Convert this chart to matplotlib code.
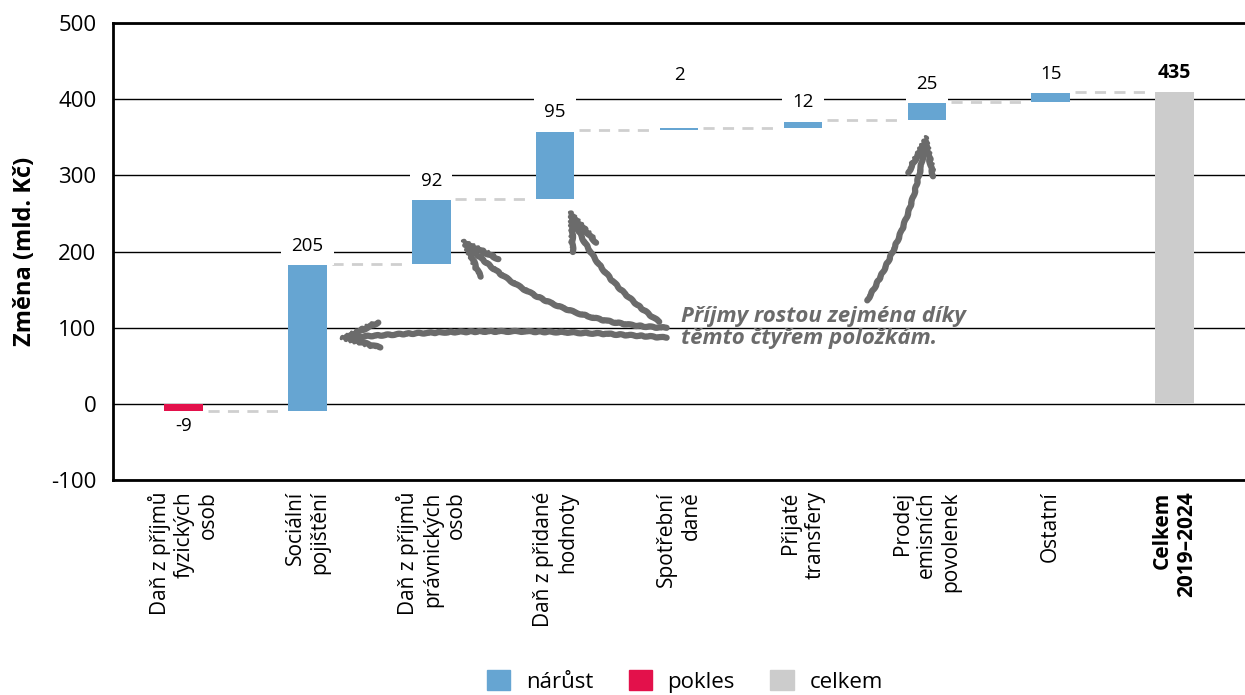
import matplotlib
matplotlib.use("Agg")
from matplotlib import pyplot as plt
from matplotlib.patches import Patch

# data
categories = ["Daň z příjmů\nfyzických\nosob", "Sociální\npojištění",
              "Daň z příjmů\nprávnických\nosob", "Daň z přidané\nhodnoty",
              "Spotřební\ndaně", "Přijaté\ntransfery",
              "Prodej\nemisních\npovolenek", "Ostatní", "Celkem\n2019–2024"]
# bar heights as drawn in the picture
changes = [-9, 193, 85, 90, 2.5, 10.5, 24, 13.5]
total = 409
# numbers printed above the bars
value_labels = ["-9", "205", "92", "95", "2", "12", "25", "15", "435"]
label_gap = [8, 12, 12, 12, 58, 12, 12, 12, 12]

c_up = "#66a5d2"
c_down = "#e3114b"
c_total = "#cccccc"
c_note = "#6b6b6b"

plt.rcParams['font.family'] = ['Open Sans', 'DejaVu Sans']
plt.rcParams['axes.unicode_minus'] = False

fig = plt.figure(figsize=(12.45, 6.95), dpi=100)
ax = fig.add_axes([0.0908, 0.309, 0.9092, 0.658])

width = 0.31
bottoms = []
running = 0
for i, ch in enumerate(changes):
    if ch >= 0:
        bottoms.append(running)
    else:
        bottoms.append(running + ch)
    running += ch
colors = [c_up if ch >= 0 else c_down for ch in changes]
heights = [abs(ch) for ch in changes]

ax.bar(range(len(changes)), heights, width, bottom=bottoms, color=colors, zorder=3)
ax.bar(len(changes), total, width, bottom=0, color=c_total, zorder=3)

# connectors
running = 0
for i, ch in enumerate(changes):
    running += ch
    ax.plot([i + width / 2 + 0.04, i + 1 - width / 2 - 0.04], [running, running],
            color="#cfcfcf", lw=2, ls=(0, (4, 3)), zorder=2)

# value labels
running = 0
for i, ch in enumerate(changes):
    if ch >= 0:
        top = running + ch
        ax.text(i, top + label_gap[i], value_labels[i], ha="center", va="bottom",
                fontsize=13.5, zorder=4,
                bbox=dict(boxstyle="square,pad=0.55", fc="white", ec="none"))
    else:
        ax.text(i, running + ch - label_gap[i], value_labels[i], ha="center", va="top",
                fontsize=13.5, zorder=4)
    running += ch
ax.text(len(changes), total + label_gap[-1], value_labels[-1], ha="center", va="bottom",
        fontsize=14, fontweight="bold", zorder=4,
        bbox=dict(boxstyle="square,pad=0.3", fc="white", ec="none"))

ax.set_ylim(-100, 500)
ax.set_xlim(-0.57, 8.57)
ax.set_yticks(range(-100, 501, 100))
ax.yaxis.grid(True, color="black", lw=1)
ax.set_axisbelow(True)
ax.tick_params(axis="both", length=0, labelsize=16)
ax.tick_params(axis="y", pad=12)
ax.tick_params(axis="x", labelsize=15, pad=8)
ax.set_xticks(range(len(categories)))
ax.set_xticklabels(categories, rotation=90)
for lab in ax.get_xticklabels():
    lab.set_multialignment("right")
ax.get_xticklabels()[-1].set_fontweight("bold")

ax.spines["right"].set_visible(False)
ax.spines["left"].set_linewidth(2)
ax.spines["bottom"].set_linewidth(2)
ax.spines["top"].set_linewidth(2)

ax.set_ylabel("Změna (mld. Kč)", fontsize=17, fontweight="bold", labelpad=10)

# note and sketchy arrows
ax.text(4.02, 100, "Příjmy rostou zejména díky\ntěmto čtyřem položkám.",
        ha="left", va="center", fontsize=16, color=c_note, style="italic",
        fontweight="bold", zorder=5, linespacing=1.05)

arrows = [((3.90, 87), (1.24, 86), 0.04),
          ((3.90, 100), (2.23, 218), -0.2),
          ((3.84, 108), (3.11, 257), -0.15),
          ((5.52, 136), (6.0, 356), 0.1)]
for tail, head, rad in arrows:
    for lw, sk in [(4.5, (0.5, 12, 2)), (2.0, (1.3, 6, 2))]:
        an = ax.annotate("", xy=head, xytext=tail, zorder=5,
                         arrowprops=dict(arrowstyle="->,head_length=2.4,head_width=0.9",
                                         connectionstyle=f"arc3,rad={rad}",
                                         color=c_note, lw=lw, shrinkA=0, shrinkB=0))
        an.arrow_patch.set_sketch_params(*sk)

handles = [Patch(color=c_up, label="nárůst"), Patch(color=c_down, label="pokles"),
           Patch(color=c_total, label="celkem")]
fig.legend(handles=handles, loc="center", bbox_to_anchor=(0.55, 0.02), ncol=3,
           frameon=False, fontsize=16, handlelength=1.05, handleheight=1.05,
           handletextpad=0.7, columnspacing=1.6)

fig.savefig("out.png", dpi=100)
